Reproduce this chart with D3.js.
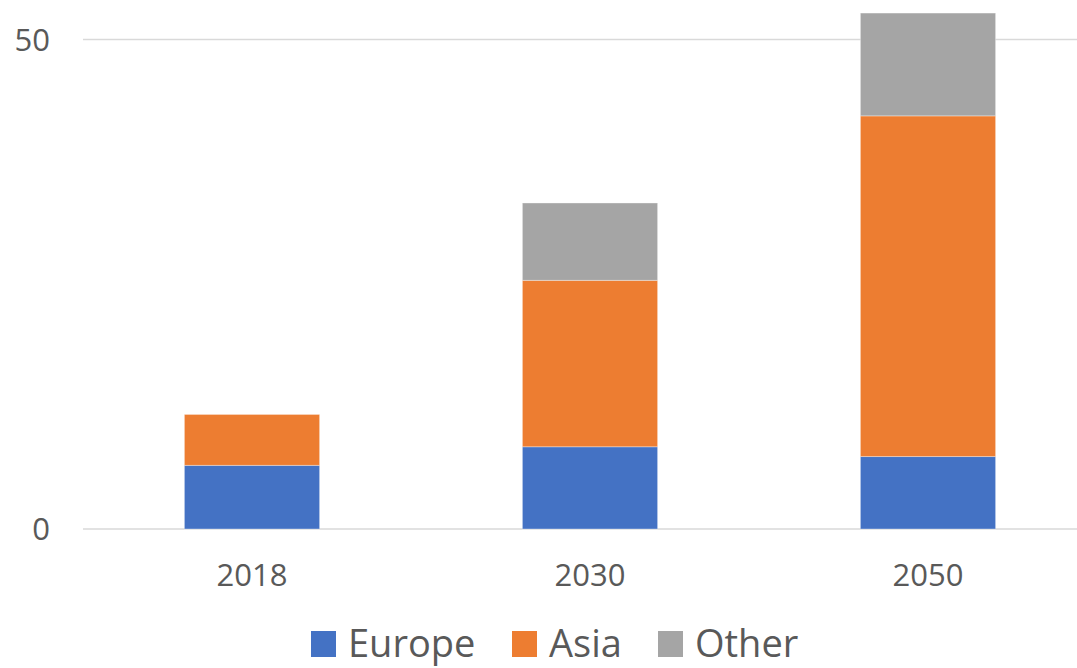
<!DOCTYPE html>
<html>
<head>
<meta charset="utf-8">
<script src="https://cdn.jsdelivr.net/npm/d3@7"></script>
<style>
  body { margin: 0; background: #fff; }
  text { font-family: "Open Sans", sans-serif; fill: #595959; }
</style>
</head>
<body>
<svg id="chart"></svg>
<script>
// values
const years = ["2018", "2030", "2050"];
const europe = [6.5, 8.4, 7.4];
const asia = [5.2, 17.0, 34.8];
const other = [0, 7.9, 10.5];
const seriesNames = ["Europe", "Asia", "Other"];
const seriesColors = ["#4472C4", "#ED7D31", "#A5A5A5"];
const yTicks = [0, 50];

const width = 1077, height = 668;
const margin = {top: 39.5, bottom: 139, left: 83};

const svg = d3.select("#chart")
    .attr("width", width)
    .attr("height", height);

const rows = years.map((y, i) => ({year: y, Europe: europe[i], Asia: asia[i], Other: other[i]}));
const stacked = d3.stack().keys(seriesNames)(rows);

const x = d3.scaleBand()
    .domain(years)
    .range([margin.left, margin.left + 3 * 338])
    .paddingInner(0.6)
    .paddingOuter(0.3);

const y = d3.scaleLinear()
    .domain([0, 50])
    .range([height - margin.bottom, margin.top]);

// gridlines
svg.append("g")
    .selectAll("line")
    .data(yTicks)
    .join("line")
    .attr("x1", margin.left)
    .attr("x2", width)
    .attr("y1", d => y(d))
    .attr("y2", d => y(d))
    .attr("stroke", "#D9D9D9")
    .attr("stroke-width", 1.3);

// y tick labels
svg.append("g")
    .selectAll("text")
    .data(yTicks)
    .join("text")
    .attr("x", 50)
    .attr("y", d => y(d))
    .attr("dy", "0.36em")
    .attr("text-anchor", "end")
    .style("font-size", "31px")
    .text(d => d);

// bars
svg.append("g")
    .selectAll("g")
    .data(stacked)
    .join("g")
    .attr("fill", (d, i) => seriesColors[i])
    .selectAll("rect")
    .data(d => d.filter(p => p[1] > p[0]))
    .join("rect")
    .attr("x", d => x(d.data.year))
    .attr("width", x.bandwidth())
    .attr("y", d => y(d[1]))
    .attr("height", d => y(d[0]) - y(d[1]))
    .attr("stroke", "#fff")
    .attr("stroke-opacity", 0.35)
    .attr("stroke-width", 1);

// x labels
svg.append("g")
    .selectAll("text")
    .data(years)
    .join("text")
    .attr("x", d => x(d) + x.bandwidth() / 2)
    .attr("y", 586)
    .attr("text-anchor", "middle")
    .style("font-size", "31px")
    .text(d => d);

// legend
const legendX = [311, 512, 658];
const legend = svg.append("g")
    .selectAll("g")
    .data(seriesNames)
    .join("g")
    .attr("transform", (d, i) => `translate(${legendX[i]},631)`);

legend.append("rect")
    .attr("width", 25)
    .attr("height", 26)
    .attr("fill", (d, i) => seriesColors[i]);

legend.append("text")
    .attr("x", 37)
    .attr("y", 26)
    .style("font-size", "38px")
    .text(d => d);
</script>
</body>
</html>
